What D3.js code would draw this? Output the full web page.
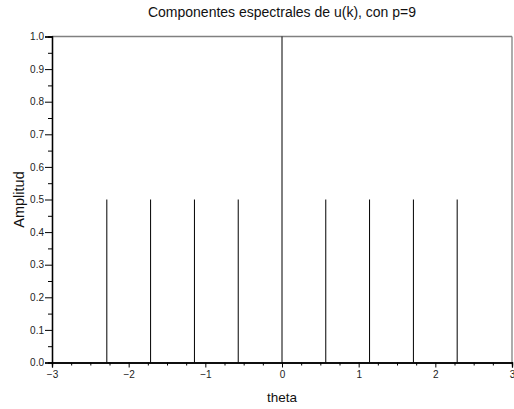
<!DOCTYPE html>
<html>
<head>
<meta charset="utf-8">
<script src="https://cdn.jsdelivr.net/npm/d3@7"></script>
<style>
  html, body { margin: 0; padding: 0; background: #fff; }
  svg { display: block; font-family: "Liberation Sans", Arial, sans-serif; }
</style>
</head>
<body>
<svg id="chart" width="514" height="409"></svg>
<script>
// Spectral lines of u(k): frequency (theta) and amplitude
const theta = [-2.285, -1.714, -1.142, -0.571, 0, 0.571, 1.142, 1.714, 2.285];
const amplitude = [0.5, 0.5, 0.5, 0.5, 1.0, 0.5, 0.5, 0.5, 0.5];

const xMajorTicks = [-3, -2, -1, 0, 1, 2, 3];
const yMajorTicks = [0, 0.1, 0.2, 0.3, 0.4, 0.5, 0.6, 0.7, 0.8, 0.9, 1.0];

const titleText = "Componentes espectrales de u(k), con p=9";
const xLabel = "theta";
const yLabel = "Amplitud";

const svg = d3.select("#chart");
const margin = { left: 52, right: 2, top: 36.5, bottom: 46.5 };
const W = 514, H = 409;

const x = d3.scaleLinear().domain([-3, 3]).range([margin.left, W - margin.right]);
const y = d3.scaleLinear().domain([0, 1]).range([H - margin.bottom, margin.top]);

// Frame: top and right in grey
svg.append("line")
  .attr("x1", x(-3)).attr("x2", x(3))
  .attr("y1", y(1)).attr("y2", y(1))
  .attr("stroke", "#808080").attr("stroke-width", 1.3);
svg.append("line")
  .attr("x1", x(3)).attr("x2", x(3))
  .attr("y1", y(0)).attr("y2", y(1))
  .attr("stroke", "#808080").attr("stroke-width", 1.3);

// Stems
svg.append("g").selectAll("line")
  .data(theta.map((t, i) => ({ t, a: amplitude[i] })))
  .join("line")
  .attr("x1", d => x(d.t)).attr("x2", d => x(d.t))
  .attr("y1", y(0)).attr("y2", d => y(d.a))
  .attr("stroke", "#000").attr("stroke-width", 1);

// X axis with minor ticks every 0.25
const xMinor = d3.range(-3, 3.001, 0.25).filter(v => Math.abs(v - Math.round(v)) > 1e-6);
const xAxisMinor = d3.axisBottom(x).tickValues(xMinor).tickSize(3).tickFormat("");
const xAxis = d3.axisBottom(x).tickValues(xMajorTicks).tickSize(5).tickPadding(3)
  .tickFormat(d => d3.format("")(d).replace("-", "\u2212"));

const gxm = svg.append("g").attr("transform", `translate(0,${y(0)})`).call(xAxisMinor);
const gx = svg.append("g").attr("transform", `translate(0,${y(0)})`).call(xAxis);
[gxm, gx].forEach(g => {
  g.select(".domain").attr("stroke", "#000").attr("stroke-width", 1.3);
  g.selectAll(".tick line").attr("stroke", "#000");
});
gx.selectAll("text").attr("font-size", 10).attr("fill", "#222")
  .attr("font-family", "Liberation Sans, Arial, sans-serif");

// Y axis with minor ticks every 0.05
const yMinor = d3.range(0.05, 1, 0.1);
const yAxisMinor = d3.axisLeft(y).tickValues(yMinor).tickSize(4).tickFormat("");
const yAxis = d3.axisLeft(y).tickValues(yMajorTicks).tickSize(7).tickPadding(1)
  .tickFormat(d3.format(".1f"));

const gym = svg.append("g").attr("transform", `translate(${x(-3)},0)`).call(yAxisMinor);
const gy = svg.append("g").attr("transform", `translate(${x(-3)},0)`).call(yAxis);
[gym, gy].forEach(g => {
  g.select(".domain").attr("stroke", "#000").attr("stroke-width", 1.3);
  g.selectAll(".tick line").attr("stroke", "#000");
});
gy.selectAll("text").attr("font-size", 10).attr("fill", "#222")
  .attr("font-family", "Liberation Sans, Arial, sans-serif");

// Title and axis labels
svg.append("text")
  .attr("x", (x(-3) + x(3)) / 2).attr("y", 17)
  .attr("text-anchor", "middle").attr("font-size", 14).attr("fill", "#111")
  .text(titleText);

svg.append("text")
  .attr("x", (x(-3) + x(3)) / 2).attr("y", 402)
  .attr("text-anchor", "middle").attr("font-size", 13.5).attr("fill", "#111")
  .text(xLabel);

svg.append("text")
  .attr("transform", `translate(24,${(y(0) + y(1)) / 2}) rotate(-90)`)
  .attr("text-anchor", "middle").attr("font-size", 14.5).attr("fill", "#111")
  .text(yLabel);
</script>
</body>
</html>
